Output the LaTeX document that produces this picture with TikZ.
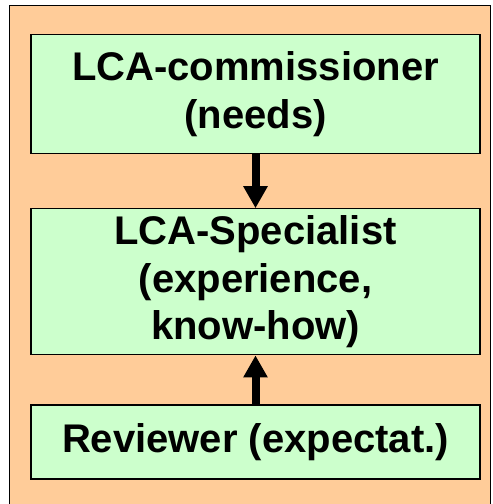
\documentclass[tikz,border=0pt]{standalone}
\usepackage{fontspec}
\setmainfont{Liberation Sans}
\usetikzlibrary{positioning}
\usetikzlibrary{arrows.meta}
\definecolor{peach}{HTML}{FFCC99}
\definecolor{palegreen}{HTML}{CCFFCC}

\begin{document}
\begin{tikzpicture}[%
    x=1pt, y=1pt,
    node distance=54pt,
rolebox/.style={rectangle, align=center, draw=black, fill=palegreen, line width=1.2pt, minimum width=449pt, inner sep=0pt, font=\fontsize{40}{47.5}\selectfont\bfseries},
framebox/.style={rectangle, draw=black, fill=peach, line width=1pt, inner sep=0pt},
flow/.style={-{Triangle[length=22pt,width=23pt]}, line width=8pt}
]
\clip (0,0) rectangle (493,-504);

% Frame
\node[framebox, minimum width=481pt, minimum height=530pt, anchor=north west] (frame) at (9,-5) {};

% Role Nodes
\node[rolebox, minimum height=119pt, anchor=north] (commissioner) at (255.5,-34) {LCA-commissioner\\(needs)};
\node[rolebox, minimum height=146pt] (specialist) [below=of commissioner] {LCA-Specialist\\(experience,\\know-how)};
\node[rolebox, minimum height=74pt]  (reviewer) [below=49pt of specialist] {Reviewer (expectat.)};

% Role Lines
\draw[flow] (commissioner.south) -- (specialist.north);
\draw[flow] (reviewer.north) -- (specialist.south);

\end{tikzpicture}
\end{document}
